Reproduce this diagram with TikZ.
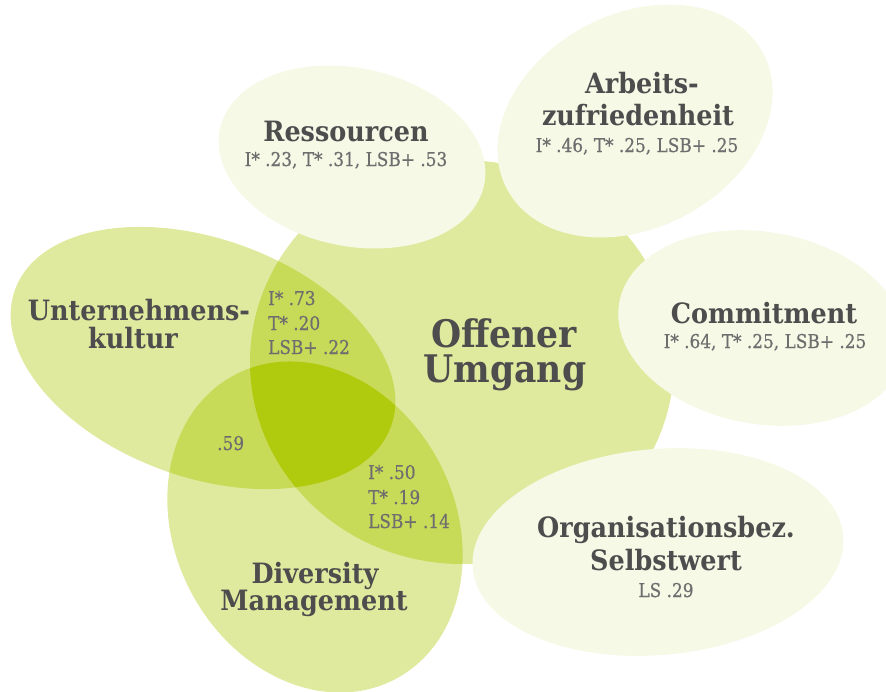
\documentclass[tikz,border=0pt]{standalone}
\usepackage{fontspec}
\setmainfont{DejaVu Serif}
\newfontfamily\titlefont{DejaVu Serif Bold}[FakeStretch=0.91]
\newfontfamily\valuefont{DejaVu Serif}[FakeStretch=0.89, FakeBold=0.6]

\definecolor{paleleaf}{HTML}{F5F9E6}
\definecolor{leaf}{HTML}{DFEA9E}
\definecolor{leafmid}{HTML}{C8DB58}
\definecolor{leafdark}{HTML}{B0CA0E}
\definecolor{titlegray}{HTML}{4D4D4D}
\definecolor{valuegray}{HTML}{6E6E6E}

\tikzset{
  % outlines of the three overlapping sets
  hub/.style={shift={(462,362)}, x radius=212, y radius=202},
  culture/.style={shift={(203,358)}, rotate=-20, x radius=200, y radius=119},
  diversity/.style={shift={(315,527)}, rotate=28, x radius=140, y radius=172},
  % outcome bubbles
  resources/.style={shift={(352,157)}, rotate=-12, x radius=135, y radius=89},
  satisfaction/.style={shift={(635,121)}, rotate=28, x radius=145, y radius=107},
  commitment/.style={shift={(762,328)}, rotate=-10, x radius=145, y radius=96},
  selfworth/.style={shift={(658,552)}, rotate=5, x radius=186, y radius=103},
  % text
  title/.style={anchor=base, inner sep=0pt, text=titlegray,
    font=\titlefont\fontsize{28}{28}\selectfont},
  bigtitle/.style={title, font=\titlefont\fontsize{38}{38}\selectfont},
  value/.style={anchor=base, inner sep=0pt, text=valuegray,
    font=\valuefont\fontsize{19}{19}\selectfont},
  valueleft/.style={value, anchor=base west},
}

\begin{document}
\begin{tikzpicture}[x=1pt, y=-1pt]
\useasboundingbox (0,0) rectangle (886,691);

% single sets
\fill[leaf, hub] (0,0) ellipse;
\fill[leaf, culture] (0,0) ellipse;
\fill[leaf, diversity] (0,0) ellipse;

% pairwise overlaps
\begin{scope}
  \clip[culture] (0,0) ellipse;
  \fill[leafmid, hub] (0,0) ellipse;
  \fill[leafmid, diversity] (0,0) ellipse;
\end{scope}
\begin{scope}
  \clip[diversity] (0,0) ellipse;
  \fill[leafmid, hub] (0,0) ellipse;
\end{scope}

% overlap of all three
\begin{scope}
  \clip[culture] (0,0) ellipse;
  \clip[diversity] (0,0) ellipse;
  \fill[leafdark, hub] (0,0) ellipse;
\end{scope}

% outcome bubbles
\fill[paleleaf, resources] (0,0) ellipse;
\fill[paleleaf, satisfaction] (0,0) ellipse;
\fill[paleleaf, commitment] (0,0) ellipse;
\fill[paleleaf, selfworth] (0,0) ellipse;

% labels
\node[bigtitle] (hubA) at (504,347) {Offener};
\node[bigtitle] (hubB) at (505,382) {Umgang};

\node[title] (resT) at (346,141) {Ressourcen};
\node[value] (resV) at (346,166) {I* .23, T* .31, LSB+ .53};

\node[title] (satA) at (642,93) {Arbeits-};
\node[title] (satB) at (638,125) {zufriedenheit};
\node[value] (satV) at (637,152) {I* .46, T* .25, LSB+ .25};

\node[title] (comT) at (764,323) {Commitment};
\node[value] (comV) at (765,348) {I* .64, T* .25, LSB+ .25};

\node[title] (selA) at (666,537) {Organisationsbez.};
\node[title] (selB) at (666,570) {Selbstwert};
\node[value] (selV) at (666,597) {LS .29};

\node[title] (culA) at (139,320) {Unternehmens-};
\node[title] (culB) at (133,348) {kultur};

\node[title] (divA) at (315,583) {Diversity};
\node[title] (divB) at (314,610) {Management};

\node[valueleft] (chA) at (268,305) {I* .73};
\node[valueleft] (chB) at (268,330) {T* .20};
\node[valueleft] (chC) at (268,354) {LSB+ .22};

\node[valueleft] (cd) at (217,450) {.59};

\node[valueleft] (dhA) at (368,479) {I* .50};
\node[valueleft] (dhB) at (368,504) {T* .19};
\node[valueleft] (dhC) at (368,528) {LSB+ .14};
\end{tikzpicture}
\end{document}
